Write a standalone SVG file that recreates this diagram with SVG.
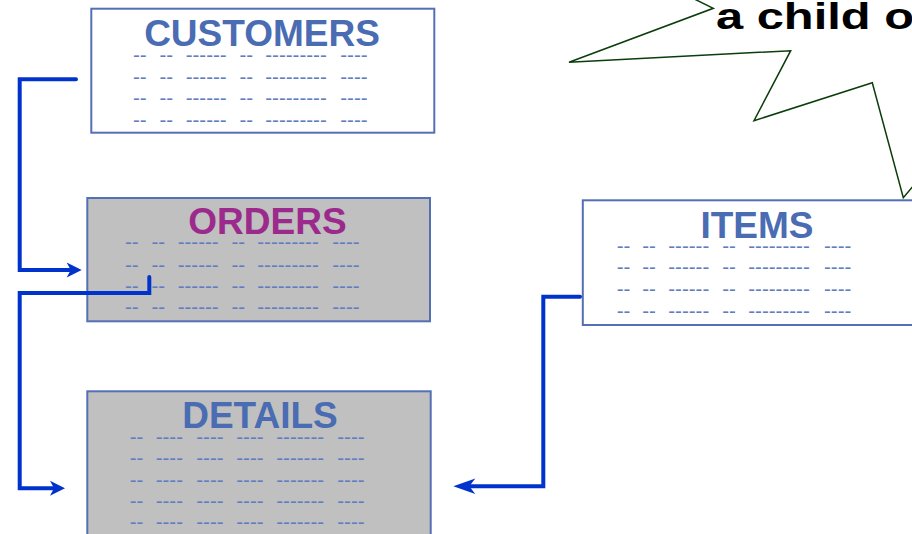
<svg xmlns="http://www.w3.org/2000/svg" width="912" height="534" viewBox="0 0 912 534">
  <style>
    .box { stroke: #5370b5; stroke-width: 2; }
    .plain { fill: #ffffff; }
    .shaded { fill: #c0c0c0; }
    .title { font-family: "Liberation Sans", Arial, sans-serif; font-weight: bold; font-size: 37px; text-anchor: middle; fill: #4a6cb3; }
    .title.purple { fill: #9c2a8c; }
    .dash { font-family: "Liberation Sans", Arial, sans-serif; font-size: 20.5px; fill: #5f7ec2; }
    .link { fill: none; stroke: #0033cc; stroke-width: 4; stroke-linejoin: miter; stroke-linecap: round; }
    .callout { fill: #ffffff; stroke: #0b3d0b; stroke-width: 1.5; stroke-linejoin: miter; }
    .note { font-family: "Liberation Sans", Arial, sans-serif; font-weight: bold; font-size: 37px; fill: #000000; }
  </style>
  <defs>
    <marker id="arrow" markerUnits="userSpaceOnUse" orient="auto" refX="4" refY="0" markerWidth="30" markerHeight="30" overflow="visible">
      <path d="M0,-7.5 L15,0 L0,7.5 L4,0 Z" fill="#0033cc"/>
    </marker>
    <marker id="arrowLong" markerUnits="userSpaceOnUse" orient="auto" refX="6" refY="0" markerWidth="40" markerHeight="30" overflow="visible">
      <path d="M0,-7.7 L22,0 L0,7.7 L6,0 Z" fill="#0033cc"/>
    </marker>
  </defs>

  <!-- CUSTOMERS table -->
  <g id="customers">
    <rect class="box plain" x="91.3" y="8.7" width="343" height="124"/>
    <text class="title" x="262" y="45.5">CUSTOMERS</text>
    <text class="dash" y="62.4"><tspan x="133">--</tspan><tspan x="159.5">--</tspan><tspan x="185.7">------</tspan><tspan x="239.5">--</tspan><tspan x="265.3">---------</tspan><tspan x="340.3">----</tspan></text>
    <text class="dash" y="84.4"><tspan x="133">--</tspan><tspan x="159.5">--</tspan><tspan x="185.7">------</tspan><tspan x="239.5">--</tspan><tspan x="265.3">---------</tspan><tspan x="340.3">----</tspan></text>
    <text class="dash" y="105.1"><tspan x="133">--</tspan><tspan x="159.5">--</tspan><tspan x="185.7">------</tspan><tspan x="239.5">--</tspan><tspan x="265.3">---------</tspan><tspan x="340.3">----</tspan></text>
    <text class="dash" y="127.1"><tspan x="133">--</tspan><tspan x="159.5">--</tspan><tspan x="185.7">------</tspan><tspan x="239.5">--</tspan><tspan x="265.3">---------</tspan><tspan x="340.3">----</tspan></text>
  </g>

  <!-- ORDERS table -->
  <g id="orders">
    <rect class="box shaded" x="87.3" y="198" width="342.7" height="123.3"/>
    <text class="title purple" x="267.5" y="233.5">ORDERS</text>
    <text class="dash" y="249.4"><tspan x="125">--</tspan><tspan x="151.5">--</tspan><tspan x="177.7">------</tspan><tspan x="231.5">--</tspan><tspan x="257.3">---------</tspan><tspan x="332.3">----</tspan></text>
    <text class="dash" y="271.8"><tspan x="125">--</tspan><tspan x="151.5">--</tspan><tspan x="177.7">------</tspan><tspan x="231.5">--</tspan><tspan x="257.3">---------</tspan><tspan x="332.3">----</tspan></text>
    <text class="dash" y="293.4"><tspan x="125">--</tspan><tspan x="151.5">--</tspan><tspan x="177.7">------</tspan><tspan x="231.5">--</tspan><tspan x="257.3">---------</tspan><tspan x="332.3">----</tspan></text>
    <text class="dash" y="314.4"><tspan x="125">--</tspan><tspan x="151.5">--</tspan><tspan x="177.7">------</tspan><tspan x="231.5">--</tspan><tspan x="257.3">---------</tspan><tspan x="332.3">----</tspan></text>
  </g>

  <!-- DETAILS table (runs past the lower edge) -->
  <g id="details">
    <rect class="box shaded" x="87.3" y="391.3" width="343.4" height="170"/>
    <text class="title" x="260" y="428">DETAILS</text>
    <text class="dash" y="444.1"><tspan x="129.7">--</tspan><tspan x="155.7">----</tspan><tspan x="196.3">----</tspan><tspan x="236.3">----</tspan><tspan x="276.3">-------</tspan><tspan x="337.3">----</tspan></text>
    <text class="dash" y="465.1"><tspan x="129.7">--</tspan><tspan x="155.7">----</tspan><tspan x="196.3">----</tspan><tspan x="236.3">----</tspan><tspan x="276.3">-------</tspan><tspan x="337.3">----</tspan></text>
    <text class="dash" y="486.8"><tspan x="129.7">--</tspan><tspan x="155.7">----</tspan><tspan x="196.3">----</tspan><tspan x="236.3">----</tspan><tspan x="276.3">-------</tspan><tspan x="337.3">----</tspan></text>
    <text class="dash" y="508.4"><tspan x="129.7">--</tspan><tspan x="155.7">----</tspan><tspan x="196.3">----</tspan><tspan x="236.3">----</tspan><tspan x="276.3">-------</tspan><tspan x="337.3">----</tspan></text>
    <text class="dash" y="529.4"><tspan x="129.7">--</tspan><tspan x="155.7">----</tspan><tspan x="196.3">----</tspan><tspan x="236.3">----</tspan><tspan x="276.3">-------</tspan><tspan x="337.3">----</tspan></text>
  </g>

  <!-- ITEMS table (runs past the right edge) -->
  <g id="items">
    <rect class="box plain" x="582.8" y="200.3" width="343" height="124.7"/>
    <text class="title" x="757" y="237.5">ITEMS</text>
    <text class="dash" y="252.8"><tspan x="616.7">--</tspan><tspan x="642.3">--</tspan><tspan x="668.3">------</tspan><tspan x="722.3">--</tspan><tspan x="748.3">---------</tspan><tspan x="824">----</tspan></text>
    <text class="dash" y="274.4"><tspan x="616.7">--</tspan><tspan x="642.3">--</tspan><tspan x="668.3">------</tspan><tspan x="722.3">--</tspan><tspan x="748.3">---------</tspan><tspan x="824">----</tspan></text>
    <text class="dash" y="296.4"><tspan x="616.7">--</tspan><tspan x="642.3">--</tspan><tspan x="668.3">------</tspan><tspan x="722.3">--</tspan><tspan x="748.3">---------</tspan><tspan x="824">----</tspan></text>
    <text class="dash" y="317.8"><tspan x="616.7">--</tspan><tspan x="642.3">--</tspan><tspan x="668.3">------</tspan><tspan x="722.3">--</tspan><tspan x="748.3">---------</tspan><tspan x="824">----</tspan></text>
  </g>

  <!-- Links between tables -->
  <g id="connectors">
    <path class="link" d="M76,79.3 H19.7 V270 H70.7" marker-end="url(#arrow)"/>
    <path class="link" d="M149.3,277 V293 H19.7 V488.3 H54" marker-end="url(#arrow)"/>
    <path class="link" d="M580,296.7 H543.3 V486.3 H469.3" marker-end="url(#arrowLong)"/>
  </g>

  <!-- Jagged callout with its note -->
  <g id="callout">
    <polygon class="callout" points="680,-8 713.3,8.3 569,62.3 790.7,50.7 754,120.7 872.3,82.7 903.3,197.7 935,160 1000,-60 680,-60"/>
    <text class="note" transform="translate(716,29.3) scale(1.32,1)">a child o</text>
  </g>
</svg>
